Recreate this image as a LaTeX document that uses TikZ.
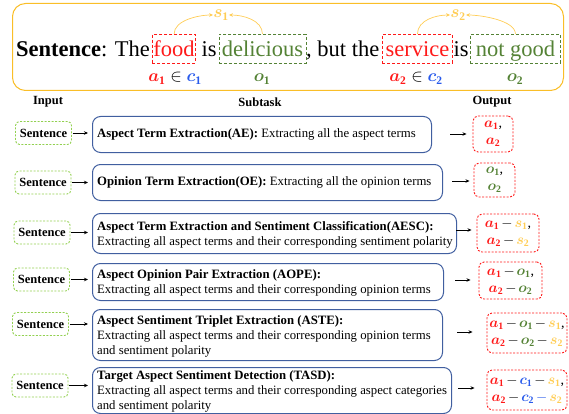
\documentclass[tikz,border=0pt]{standalone}
\usepackage{fontspec}
\setmainfont{Liberation Serif}
\usepackage{bm}
\usetikzlibrary{arrows.meta}

\definecolor{aspred}{RGB}{255,25,25}
\definecolor{opgreen}{RGB}{84,130,53}
\definecolor{catblue}{RGB}{40,90,235}
\definecolor{sentyel}{RGB}{255,205,85}
\definecolor{frameor}{RGB}{250,190,40}
\definecolor{inpgreen}{RGB}{146,208,80}
\definecolor{taskblue}{RGB}{65,95,160}

% coloured bold symbols for aspects, opinions, categories, sentiments
\newcommand{\termA}[1]{\textcolor{aspred}{\bm{a}_{\mathbf{#1}}}}
\newcommand{\termO}[1]{\textcolor{opgreen}{\bm{o}_{\mathbf{#1}}}}
\newcommand{\termC}[1]{\textcolor{catblue}{\bm{c}_{\mathbf{#1}}}}
\newcommand{\termS}[1]{\textcolor{sentyel}{\bm{s}_{\mathbf{#1}}}}
\newcommand{\bluedash}{\mathbin{\textcolor{catblue}{-}}}

\begin{document}
\medmuskip=2.5mu
\begin{tikzpicture}[x=1pt,y=-1pt,
  wbox/.style={draw=#1, text=#1, dash pattern=on 3pt off 2pt, line width=0.9pt,
    inner xsep=1pt, inner ysep=1.5pt, text height=21pt, text depth=4.5pt,
    font=\fontsize{22.5}{27}\selectfont, anchor=base west},
  plain/.style={anchor=base west, inner sep=0pt, font=\fontsize{22.5}{27}\selectfont},
  lbl/.style={anchor=base, inner sep=0pt, font=\fontsize{16.5}{18}\selectfont},
  yarr/.style={draw=sentyel, line width=0.7pt, -{Stealth[length=4pt,width=3.5pt]}},
  hdr/.style={font=\bfseries\fontsize{12.5}{15}\selectfont, inner sep=0pt},
  inbox/.style={draw=inpgreen, dash pattern=on 2pt off 1.5pt, line width=0.9pt,
    rounded corners=4pt, minimum width=56pt, minimum height=23pt, inner sep=0pt,
    font=\bfseries\fontsize{12.5}{15}\selectfont},
  taskbox/.style={draw=taskblue, line width=1pt, rounded corners=8pt, anchor=north west, inner sep=0pt},
  tasktext/.style={anchor=west, align=left, inner sep=0pt, font=\fontsize{12.75}{15}\selectfont},
  outbox/.style={draw=aspred, dash pattern=on 2pt off 1.5pt, line width=0.9pt,
    rounded corners=5pt, align=center, inner sep=0pt,
    font=\fontsize{14}{17}\selectfont},
  arr/.style={draw=black, line width=0.8pt, -{Stealth[length=4pt,width=3.5pt]}}
]
\useasboundingbox (0,0) rectangle (569,414);

% ---- example sentence ----
\node[draw=frameor, line width=1pt, rounded corners=13pt, minimum width=551pt,
      minimum height=87pt, anchor=north west, inner sep=0pt] (frame) at (12,3) {};

\node[plain] (lead) at (16,57) {\textbf{Sentence}: The};
\node[wbox=aspred, minimum width=43pt] (food) at (152,57) {food};
\node[plain] (is1) at (201.5,57) {is};
\node[wbox=opgreen, minimum width=87pt] (delic) at (218.5,57) {delicious};
\node[plain] (but) at (306,57) {, but the};
\node[wbox=aspred, minimum width=70pt] (serv) at (382,57) {service};
\node[plain] (is2) at (453.5,57) {is};
\node[wbox=opgreen, minimum width=90pt] (notgood) at (470,57) {not good};

\node[lbl] (l1) at (175,82) {$\termA1 \in \termC1$};
\node[lbl] (l2) at (262,82) {$\termO1$};
\node[lbl] (l3) at (416,82) {$\termA2 \in \termC2$};
\node[lbl] (l4) at (515,82) {$\termO2$};

\node[lbl, anchor=center] (s1) at (221,15) {$\termS1$};
\node[lbl, anchor=center] (s2) at (458,15) {$\termS2$};

\draw[yarr] (food.north) .. controls +(0,-14) and +(-14,0) .. (s1.west);
\draw[yarr] (delic.north) .. controls +(0,-14) and +(14,0) .. (s1.east);
\draw[yarr] (serv.north) .. controls +(0,-14) and +(-14,0) .. (s2.west);
\draw[yarr] (notgood.north) .. controls +(0,-14) and +(14,0) .. (s2.east);

% ---- column headers ----
\node[hdr] (hin) at (48,102) {Input};
\node[hdr] (hsub) at (260,102) {Subtask};
\node[hdr] (hout) at (492,102) {Output};

% ---- inputs ----
\node[inbox] (in1) at (43.5,133) {Sentence};
\node[inbox] (in2) at (43,182.5) {Sentence};
\node[inbox] (in3) at (42,232.5) {Sentence};
\node[inbox] (in4) at (41.5,279.5) {Sentence};
\node[inbox] (in5) at (40.5,324) {Sentence};
\node[inbox] (in6) at (40,385.5) {Sentence};

% ---- subtasks ----
\node[taskbox, minimum width=339pt, minimum height=36pt] (st1) at (92,116) {};
\node[taskbox, minimum width=350pt, minimum height=36pt] (st2) at (92,164) {};
\node[taskbox, minimum width=364pt, minimum height=40pt] (st3) at (92,213) {};
\node[taskbox, minimum width=351pt, minimum height=37pt] (st4) at (92,263) {};
\node[taskbox, minimum width=350pt, minimum height=51pt] (st5) at (92,309) {};
\node[taskbox, minimum width=359pt, minimum height=46pt] (st6) at (92,367) {};

\node[tasktext] (tt1) at ([xshift=5pt]st1.west) {\textbf{Aspect Term Extraction(AE):} Extracting all the aspect terms};
\node[tasktext] (tt2) at ([xshift=5pt]st2.west) {\textbf{Opinion Term Extraction(OE):} Extracting all the opinion terms};
\node[tasktext] (tt3) at ([xshift=5pt,yshift=-1pt]st3.west) {\textbf{Aspect Term Extraction and Sentiment Classification(AESC):}\\
  Extracting all aspect terms and their corresponding sentiment polarity};
\node[tasktext] (tt4) at ([xshift=5pt,yshift=-1pt]st4.west) {\textbf{Aspect Opinion Pair Extraction (AOPE):}\\
  Extracting all aspect terms and their corresponding opinion terms};
\node[tasktext] (tt5) at ([xshift=5pt,yshift=-1pt]st5.west) {\textbf{Aspect Sentiment Triplet Extraction (ASTE):}\\
  Extracting all aspect terms and their corresponding opinion terms\\
  and sentiment polarity};
\node[tasktext] (tt6) at ([xshift=5pt,yshift=-1pt]st6.west) {\textbf{Target Aspect Sentiment Detection (TASD):}\\
  Extracting all aspect terms and their corresponding aspect categories\\
  and sentiment polarity};

% ---- outputs ----
\node[outbox, minimum width=40pt, minimum height=36pt] (out1) at (493,134) {$\termA1$,\\ $\termA2$};
\node[outbox, minimum width=41pt, minimum height=34pt] (out2) at (494.5,180) {$\termO1$,\\ $\termO2$};
\node[outbox, minimum width=62pt, minimum height=38pt] (out3) at (508,233) {$\termA1 - \termS1$,\\ $\termA2 - \termS2$};
\node[outbox, minimum width=63pt, minimum height=37pt] (out4) at (510.5,280.5) {$\termA1 - \termO1$,\\ $\termA2 - \termO2$};
\node[outbox, minimum width=80pt, minimum height=40pt] (out5) at (527,333) {$\termA1 - \termO1 - \termS1$,\\ $\termA2 - \termO2 - \termS2$};
\node[outbox, minimum width=80pt, minimum height=40pt] (out6) at (527,390) {$\termA1 - \termC1 - \termS1$,\\ $\termA2 - \termC2 \bluedash \termS2$};

% ---- connectors ----
\foreach \i in {1,...,6}
  \draw[arr, shorten <=1pt, shorten >=4pt] (in\i.east) -- (in\i.east -| st\i.west);

\coordinate (oa1) at (450,134);
\coordinate (oa2) at (452,181);
\coordinate (oa3) at (456,230);
\coordinate (oa4) at (455,280);
\coordinate (oa5) at (457,332);
\coordinate (oa6) at (458,388);
\draw[arr, shorten >=6pt] (oa1) -- (oa1 -| out1.west);
\draw[arr, shorten >=4pt] (oa2) -- (oa2 -| out2.west);
\draw[arr, shorten >=5pt] (oa3) -- (oa3 -| out3.west);
\draw[arr, shorten >=8pt] (oa4) -- (oa4 -| out4.west);
\draw[arr, shorten >=14pt] (oa5) -- (oa5 -| out5.west);
\draw[arr, shorten >=12pt] (oa6) -- (oa6 -| out6.west);
\end{tikzpicture}
\end{document}
